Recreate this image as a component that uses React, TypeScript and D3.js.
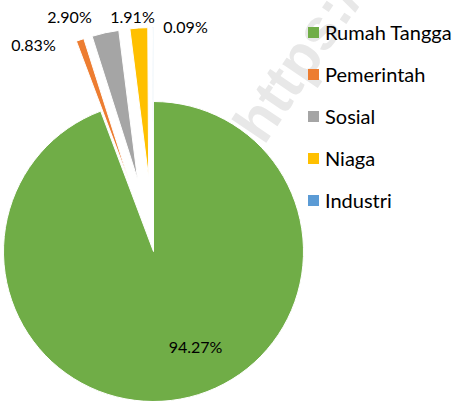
import React from 'react';
import * as d3 from 'd3';

// data
const categories = ['Rumah Tangga', 'Pemerintah', 'Sosial', 'Niaga', 'Industri'];
const values = [94.27, 0.83, 2.9, 1.91, 0.09];
const labels = ['94.27%', '0.83%', '2.90%', '1.91%', '0.09%'];
const colors = ['#70AD47', '#ED7D31', '#A5A5A5', '#FFC000', '#5B9BD5'];
const exploded = [false, true, true, true, true];

const width = 453;
const height = 401;
const cx = 153.5;
const cy = 251.5;
const radius = 150;
const explodeBy = 74;

// label centres relative to the pie centre (Excel best-fit placement)
const labelOffsets: [number, number][] = [
  [42, 101],
  [-120, -201],
  [-84, -229],
  [-21, -229],
  [32, -219],
];

const font = 'Lato, "Open Sans", sans-serif';

const App = () => {
  const pie = d3
    .pie<number>()
    .sort(null)
    .value((d) => d)
    .startAngle(0)
    .endAngle(2 * Math.PI);
  const arc = d3.arc<d3.PieArcDatum<number>>().innerRadius(0).outerRadius(radius);
  const arcs = pie(values);

  const legend = d3.scaleBand().domain(categories).range([12, 222]);

  return (
    <svg
      width={width}
      height={height}
      style={{ position: 'absolute', left: 0, top: 0, background: '#fff' }}
    >
      {/* faint watermark */}
      <text
        transform='translate(264,146) rotate(-56)'
        fontFamily='"Liberation Sans", Arial, sans-serif'
        fontWeight='bold'
        fontSize={58}
        fill='#e8e8e8'
      >
        https://
      </text>

      <g transform={`translate(${cx},${cy})`}>
        {arcs.map((a, i) => {
          const mid = (a.startAngle + a.endAngle) / 2;
          const d = exploded[i] ? explodeBy : 0;
          return (
            <path
              key={categories[i]}
              d={arc(a) || ''}
              transform={`translate(${d * Math.sin(mid)},${-d * Math.cos(mid)})`}
              fill={colors[i]}
              stroke='#fff'
              strokeWidth={1}
            />
          );
        })}
        {arcs.map((a, i) => (
          <text
            key={'l' + i}
            x={labelOffsets[i][0]}
            y={labelOffsets[i][1]}
            textAnchor='middle'
            fontFamily={font}
            fontSize={16}
            fill='#000'
          >
            {labels[i]}
          </text>
        ))}
      </g>

      <g>
        {categories.map((c, i) => {
          const y = (legend(c) || 0) + legend.bandwidth() / 2;
          return (
            <g key={c}>
              <rect x={308} y={y - 6} width={11} height={11} fill={colors[i]} />
              <text x={325} y={y + 7} fontFamily={font} fontSize={20} fill='#000'>
                {c}
              </text>
            </g>
          );
        })}
      </g>
    </svg>
  );
};

export default App;
